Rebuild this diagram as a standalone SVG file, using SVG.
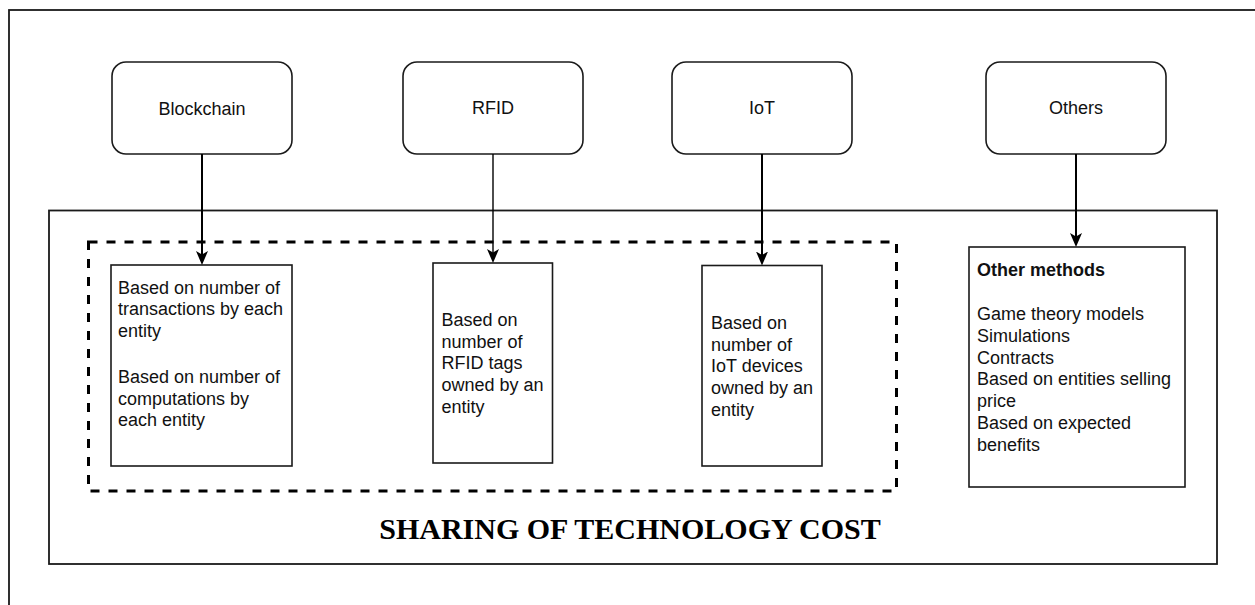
<svg xmlns="http://www.w3.org/2000/svg" width="1255" height="605" viewBox="0 0 1255 605">
  <style>
    .frame { fill: none; stroke: #1a1a1a; stroke-width: 1.8; }
    .tech { fill: #ffffff; stroke: #1a1a1a; stroke-width: 1.6; }
    .method { fill: #ffffff; stroke: #1a1a1a; stroke-width: 1.6; }
    .group { fill: none; stroke: #000000; stroke-width: 3; stroke-dasharray: 9 9; }
    .label { font-family: "Liberation Sans", Arial, sans-serif; font-size: 18px; fill: #111111; }
    .center { text-anchor: middle; }
    .bold { font-weight: bold; }
    .title { font-family: "Liberation Serif", "Times New Roman", serif; font-size: 30px; font-weight: bold; fill: #000000; text-anchor: middle; }
    .edge { fill: none; stroke: #000000; }
  </style>
  <defs>
    <marker id="arrow" markerUnits="userSpaceOnUse" viewBox="0 0 14 12" markerWidth="14" markerHeight="12" refX="4" refY="6" orient="auto">
      <path d="M0,0 L14,6 L0,12 L3.5,6 Z" fill="#000000"/>
    </marker>
  </defs>

  <rect width="1255" height="605" fill="#ffffff"/>

  <!-- page frame, running off the right and bottom edges -->
  <rect id="page-frame" class="frame" x="9" y="10" width="1262" height="610"/>

  <!-- cost sharing container -->
  <g id="cost-sharing">
    <rect class="frame" x="49" y="210.5" width="1168" height="353.5"/>
    <text class="title" x="630" y="539">SHARING OF TECHNOLOGY COST</text>
  </g>

  <!-- dashed group around the per-technology methods -->
  <rect id="technology-methods" class="group" x="88.5" y="242" width="808" height="249"/>

  <!-- technologies -->
  <g id="blockchain">
    <rect class="tech" x="112" y="62" width="180" height="92" rx="14" ry="14"/>
    <text class="label center" x="202" y="115">Blockchain</text>
  </g>
  <g id="rfid">
    <rect class="tech" x="403" y="62" width="180" height="92" rx="14" ry="14"/>
    <text class="label center" x="493" y="114">RFID</text>
  </g>
  <g id="iot">
    <rect class="tech" x="672" y="62" width="180" height="92" rx="14" ry="14"/>
    <text class="label center" x="762" y="114">IoT</text>
  </g>
  <g id="others">
    <rect class="tech" x="986" y="62" width="180" height="92" rx="14" ry="14"/>
    <text class="label center" x="1076" y="114">Others</text>
  </g>

  <!-- cost sharing methods -->
  <g id="blockchain-methods">
    <rect class="method" x="111" y="265" width="181" height="201"/>
    <text class="label">
      <tspan x="118" y="293.6">Based on number of</tspan>
      <tspan x="118" y="315.3">transactions by each</tspan>
      <tspan x="118" y="337">entity</tspan>
      <tspan x="118" y="383">Based on number of</tspan>
      <tspan x="118" y="404.7">computations by</tspan>
      <tspan x="118" y="426.4">each entity</tspan>
    </text>
  </g>
  <g id="rfid-methods">
    <rect class="method" x="433" y="263" width="119.5" height="200"/>
    <text class="label">
      <tspan x="441.5" y="326">Based on</tspan>
      <tspan x="441.5" y="347.7">number of</tspan>
      <tspan x="441.5" y="369.4">RFID tags</tspan>
      <tspan x="441.5" y="391.1">owned by an</tspan>
      <tspan x="441.5" y="412.8">entity</tspan>
    </text>
  </g>
  <g id="iot-methods">
    <rect class="method" x="702" y="265.5" width="120" height="200.5"/>
    <text class="label">
      <tspan x="711" y="329">Based on</tspan>
      <tspan x="711" y="350.7">number of</tspan>
      <tspan x="711" y="372.4">IoT devices</tspan>
      <tspan x="711" y="394.1">owned by an</tspan>
      <tspan x="711" y="415.8">entity</tspan>
    </text>
  </g>
  <g id="other-methods">
    <rect class="method" x="969" y="247" width="216" height="240"/>
    <text class="label">
      <tspan class="bold" x="977" y="276">Other methods</tspan>
      <tspan x="977" y="319.7">Game theory models</tspan>
      <tspan x="977" y="341.6">Simulations</tspan>
      <tspan x="977" y="363.5">Contracts</tspan>
      <tspan x="977" y="385.4">Based on entities selling</tspan>
      <tspan x="977" y="407.3">price</tspan>
      <tspan x="977" y="429.2">Based on expected</tspan>
      <tspan x="977" y="451.1">benefits</tspan>
    </text>
  </g>

  <!-- connectors -->
  <g id="connectors">
    <path class="edge" stroke-width="2" d="M202,154 L202,255" marker-end="url(#arrow)"/>
    <path class="edge" stroke-width="1.4" d="M493,154 L493,253" marker-end="url(#arrow)"/>
    <path class="edge" stroke-width="2" d="M762,154 L762,255.5" marker-end="url(#arrow)"/>
    <path class="edge" stroke-width="2" d="M1076,154 L1076,237" marker-end="url(#arrow)"/>
  </g>
</svg>
